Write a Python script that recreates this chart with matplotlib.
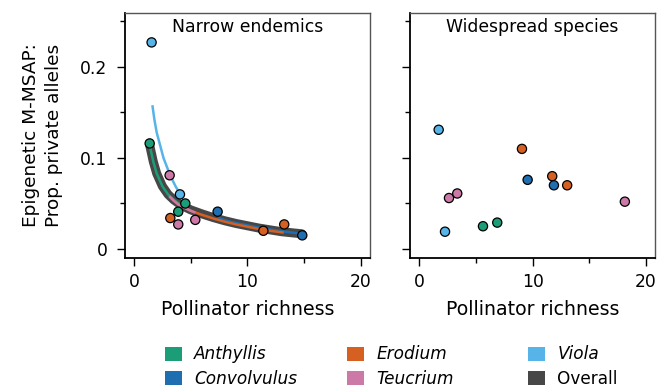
import matplotlib
matplotlib.use("Agg")
import matplotlib.pyplot as plt
from matplotlib.patches import Patch
from matplotlib.ticker import FixedLocator

# ---------------- data ----------------
species = ["Anthyllis", "Convolvulus", "Erodium", "Teucrium", "Viola"]
colors = {"Anthyllis": "#1b9e77", "Convolvulus": "#1f6eb0", "Erodium": "#d65f22",
          "Teucrium": "#cc79a7", "Viola": "#56b4e9", "Overall": "#474747"}

narrow_species = ["Viola", "Anthyllis", "Teucrium", "Viola", "Anthyllis", "Anthyllis", "Erodium",
                  "Teucrium", "Teucrium", "Convolvulus", "Erodium", "Erodium", "Convolvulus"]
narrow_x = [1.55, 1.38, 3.14, 4.05, 4.52, 3.90, 3.20, 3.90, 5.40, 7.37, 11.40, 13.24, 14.83]
narrow_y = [0.227, 0.116, 0.081, 0.060, 0.050, 0.041, 0.034, 0.027, 0.032, 0.041, 0.020, 0.027, 0.015]

wide_species = ["Viola", "Viola", "Teucrium", "Teucrium", "Anthyllis", "Anthyllis", "Erodium",
                "Convolvulus", "Erodium", "Convolvulus", "Erodium", "Teucrium"]
wide_x = [1.71, 2.27, 2.62, 3.35, 5.62, 6.88, 9.06, 9.56, 11.73, 11.88, 13.05, 18.14]
wide_y = [0.131, 0.019, 0.056, 0.061, 0.025, 0.029, 0.110, 0.076, 0.080, 0.070, 0.070, 0.052]

# fitted curves
overall_x = [1.4, 1.7, 2.0, 2.5, 3.0, 3.5, 4.0, 4.5, 5.0, 6.0, 7.0, 8.0, 9.0, 10.0, 11.0, 12.0, 13.0, 14.0, 14.8]
overall_y = [0.113, 0.096, 0.083, 0.069, 0.060, 0.054, 0.0495, 0.046, 0.043, 0.0385, 0.0345, 0.031,
             0.028, 0.0255, 0.023, 0.021, 0.019, 0.0177, 0.0167]
curve_x = {
    "Anthyllis": [1.4, 1.7, 2.0, 2.5, 3.0, 3.5, 4.0, 4.5],
    "Convolvulus": [7.4, 8.0, 9.0, 10.0, 11.0, 12.0, 13.0, 14.0, 14.8],
    "Erodium": [3.2, 4.0, 5.0, 6.0, 7.0, 8.0, 9.0, 10.0, 11.0, 12.0, 13.2],
    "Teucrium": [3.1, 3.5, 4.0, 4.5, 5.0, 5.4],
    "Viola": [1.62, 1.8, 2.0, 2.3, 2.6, 3.0, 3.3, 3.7, 4.1],
}
curve_y = {
    "Anthyllis": [0.113, 0.096, 0.083, 0.069, 0.060, 0.054, 0.0495, 0.046],
    "Convolvulus": [0.0345, 0.0315, 0.0285, 0.026, 0.0235, 0.0215, 0.0195, 0.018, 0.0167],
    "Erodium": [0.057, 0.048, 0.042, 0.0375, 0.0335, 0.030, 0.027, 0.0245, 0.022, 0.020, 0.018],
    "Teucrium": [0.058, 0.053, 0.048, 0.045, 0.042, 0.040],
    "Viola": [0.158, 0.142, 0.128, 0.114, 0.100, 0.087, 0.078, 0.068, 0.060],
}

titles = ["Narrow endemics", "Widespread species"]
xlabel = "Pollinator richness"
ylabel = "Epigenetic M-MSAP:\nProp. private alleles"
xmaj = [0, 10, 20]
xmin = [5, 15]
ymaj = [0, 0.1, 0.2]
ymaj_labels = ["0", "0.1", "0.2"]
ymin = [0.05, 0.15, 0.25]

# ---------------- figure ----------------
plt.rcParams["font.family"] = ["DejaVu Sans"]
W, H = 659, 389
fig = plt.figure(figsize=(W / 100, H / 100), dpi=100)

def axrect(x0, x1, y0, y1):
    return [x0 / W, 1 - y1 / H, (x1 - x0) / W, (y1 - y0) / H]

ax1 = fig.add_axes(axrect(124.7, 370, 13, 258))
ax2 = fig.add_axes(axrect(410, 655, 13, 258))

def style(ax, show_ylabels):
    ax.set_xlim(-0.82, 20.8)
    ax.set_ylim(-0.0099, 0.2593)
    for s in ["left", "bottom"]:
        ax.spines[s].set_color("black")
        ax.spines[s].set_linewidth(1.3)
    for s in ["top", "right"]:
        ax.spines[s].set_color("#555555")
        ax.spines[s].set_linewidth(1.0)
    ax.xaxis.set_major_locator(FixedLocator(xmaj))
    ax.xaxis.set_minor_locator(FixedLocator(xmin))
    ax.yaxis.set_major_locator(FixedLocator(ymaj))
    ax.yaxis.set_minor_locator(FixedLocator(ymin))
    ax.set_xticklabels([str(v) for v in xmaj])
    ax.set_yticklabels(ymaj_labels if show_ylabels else [])
    ax.tick_params(which="major", direction="out", length=5.5, width=1.0, labelsize=12.3)
    ax.tick_params(axis="y", which="major", pad=7)
    ax.tick_params(axis="x", which="major", pad=5)
    ax.tick_params(which="minor", direction="out", length=3.8, width=1.0)
    ax.set_xlabel(xlabel, fontsize=13.6, labelpad=7)

style(ax1, True)
style(ax2, False)
ax1.set_ylabel(ylabel, fontsize=13.3, labelpad=12, linespacing=1.4)

# curves
ax1.plot(overall_x, overall_y, color=colors["Overall"], lw=6.5, solid_capstyle="round", zorder=2)
for sp in species:
    ax1.plot(curve_x[sp], curve_y[sp], color=colors[sp], lw=1.8, solid_capstyle="butt", zorder=3)

# points
for ax, sps, xs, ys in [(ax1, narrow_species, narrow_x, narrow_y), (ax2, wide_species, wide_x, wide_y)]:
    ax.scatter(xs, ys, c=[colors[s] for s in sps], s=44, edgecolors="black", linewidths=0.9, zorder=4)

for ax, t in zip([ax1, ax2], titles):
    ax.text(0.5, 0.943, t, transform=ax.transAxes, ha="center", va="center", fontsize=12.4)

# legend: three columns placed individually
cols = [["Anthyllis", "Convolvulus"], ["Erodium", "Teucrium"], ["Viola", "Overall"]]
col_x = [162, 344, 525]
for names, x0 in zip(cols, col_x):
    handles = [Patch(facecolor=colors[n], edgecolor="none") for n in names]
    leg = fig.legend(handles, names, loc="upper left", bbox_to_anchor=(x0 / W, 1 - 342 / H),
                     frameon=False, fontsize=12.2, handlelength=1.0, handleheight=0.9,
                     handletextpad=0.7, labelspacing=0.38, borderaxespad=0, borderpad=0.2)
    for txt, n in zip(leg.get_texts(), names):
        if n != "Overall":
            txt.set_fontstyle("italic")

fig.savefig("out.png", dpi=100)
